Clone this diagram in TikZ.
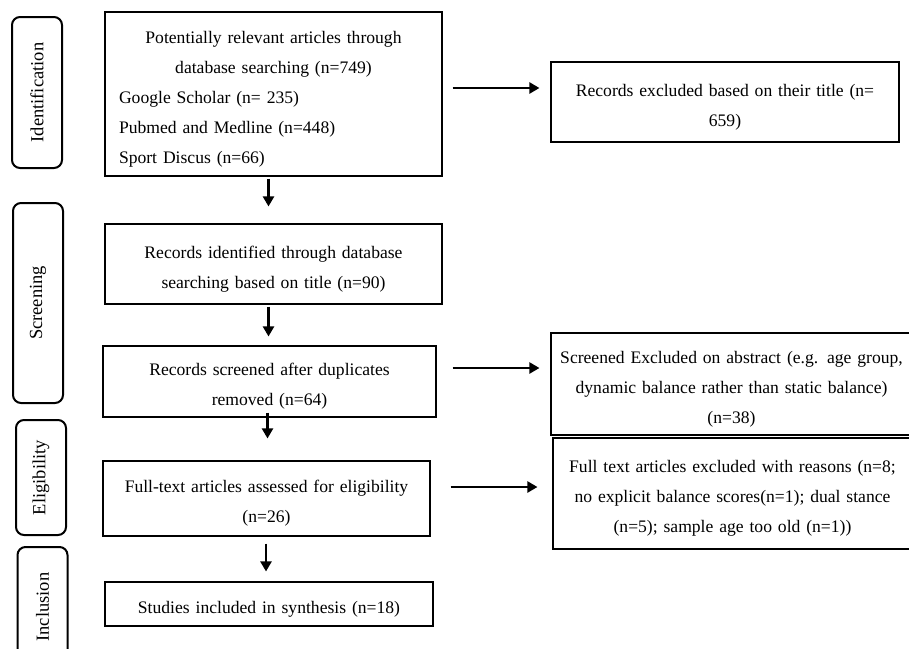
\documentclass[tikz,border=0pt]{standalone}
\usepackage{fontspec}
\setmainfont{Liberation Serif}
\usetikzlibrary{arrows.meta}

\begin{document}
\begin{tikzpicture}[x=1pt,y=-1pt]

% Flow style
\tikzset{
    box/.style={draw, line width=1.1pt, inner sep=0pt, align=center,
        text width=345pt, font=\fontsize{17.6}{30}\selectfont,
        execute at begin node={\rule{0pt}{22pt}}},
    stage/.style={draw, line width=2pt, rounded corners=8pt, rotate=90,
        inner sep=0pt, minimum height=50pt, font=\fontsize{18.5}{20}\selectfont},
    arr/.style={line width=2.2pt, -{Triangle[length=10pt,width=11pt]}}
}
\useasboundingbox (0,0) rectangle (909,648);

% Stages
\node[stage, minimum width=151pt] (Ident) at (37,92.5) {Identification};
\node[stage, minimum width=200pt] (Screen) at (38,303) {Screening};
\node[stage, minimum width=115pt] (Elig) at (41,477.5) {Eligibility};
\node[stage, minimum width=120pt] (Incl) at (42.5,607) {Inclusion};

% Main column
\node[box, minimum width=337pt, minimum height=164pt, text width=309pt] (Pot) at (273.5,94)
    {Potentially relevant articles through\\database searching (n=749)\\
     \makebox[309pt][l]{Google Scholar (n= 235)}\\
     \makebox[309pt][l]{Pubmed and Medline (n=448)}\\
     \makebox[309pt][l]{Sport Discus (n=66)}};
\node[box, minimum width=337pt, minimum height=80pt, text width=325pt] (Rec) at (273.5,264)
    {Records identified through database\\searching based on title (n=90)};
\node[box, minimum width=333pt, minimum height=71pt, text width=321pt] (Scr) at (269.5,381.5)
    {Records screened after duplicates\\removed (n=64)};
\node[box, minimum width=327pt, minimum height=75pt, text width=317pt] (Full) at (266.5,498.5)
    {Full-text articles assessed for eligibility\\(n=26)};
\node[box, minimum width=328pt, minimum height=44pt, text width=318pt] (Stud) at (269,604)
    {Studies included in synthesis (n=18)};

% Exclusions
\node[box, minimum width=348pt, minimum height=80pt, text width=338pt] (Exc1) at (725,102)
    {Records excluded based on their title (n=\\659)};
\node[box, minimum width=361pt, minimum height=102pt, text width=351pt] (Exc2) at (731.5,384)
    {Screened Excluded on abstract (e.g. age group,\\dynamic balance rather than static balance)\\(n=38)};
\node[box, minimum width=359pt, minimum height=111pt, text width=349pt] (Exc3) at (732.5,493.5)
    {Full text articles excluded with reasons (n=8;\\no explicit balance scores(n=1); dual stance\\(n=5); sample age too old (n=1))};

% Down arrows
\draw[arr, shorten <=2pt, shorten >=17pt] ([xshift=-5pt]Pot.south) -- ([xshift=-5pt]Pot.south |- Rec.north);
\draw[arr, shorten <=2pt, shorten >=9pt] ([xshift=-5pt]Rec.south) -- ([xshift=-5pt]Rec.south |- Scr.north);
\draw[arr, shorten <=-5pt, shorten >=22pt] ([xshift=-2pt]Scr.south) -- ([xshift=-2pt]Scr.south |- Full.north);
\draw[arr, shorten <=7pt, shorten >=10pt] ([xshift=-0.5pt]Full.south) -- ([xshift=-0.5pt]Full.south |- Stud.north);

% Side arrows
\draw[arr, shorten <=10pt, shorten >=11pt] ([yshift=6pt]Pot.east) -- ([yshift=6pt]Pot.east -| Exc1.west);
\draw[arr, shorten <=16pt, shorten >=11pt] ([yshift=13.5pt]Scr.east) -- ([yshift=13.5pt]Scr.east -| Exc2.west);
\draw[arr, shorten <=20pt, shorten >=15pt] ([yshift=11.5pt]Full.east) -- ([yshift=11.5pt]Full.east -| Exc3.west);

\end{tikzpicture}
\end{document}
